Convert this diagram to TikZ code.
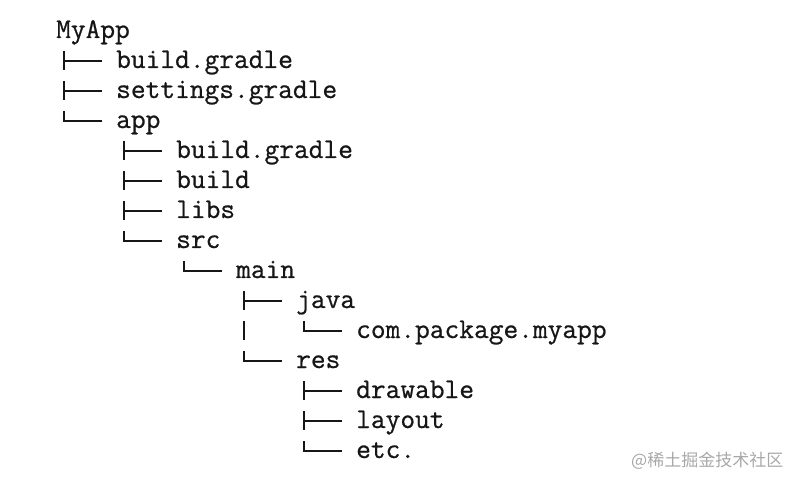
\documentclass[tikz,border=0pt]{standalone}
\usepackage{fontspec}
\usetikzlibrary{calc}
\setmonofont{Latin Modern Mono}[FakeBold=0.7]
\newfontfamily\cjk{Noto Sans CJK SC}
\definecolor{treeink}{HTML}{161616}
\definecolor{markgray}{HTML}{A8A8A8}
\tikzset{
  entry/.style={anchor=base west, inner sep=0pt, text=treeink,
                font=\ttfamily\fontsize{28.6}{30}\selectfont},
  tree/.style={draw=treeink, line width=1.7pt},
}
% tree glyphs drawn from parent to child: mid = |--, last = `--, pass = |
\newcommand\midbranch[2]{\draw[tree] let \p1=(#1.base west), \p2=(#2.base west) in
  (\x1+8pt,\y2+17pt) -- (\x1+8pt,\y2-2pt) (\x1+8pt,\y2+7pt) -- (\x2-14pt,\y2+7pt);}
\newcommand\lastbranch[2]{\draw[tree] let \p1=(#1.base west), \p2=(#2.base west) in
  (\x1+8pt,\y2+17pt) |- (\x2-14pt,\y2+7pt);}
\newcommand\passbranch[2]{\draw[tree] let \p1=(#1.base west), \p2=(#2.base west) in
  (\x1+8pt,\y2+17pt) -- (\x1+8pt,\y2-2pt);}

\begin{document}
\begin{tikzpicture}[x=1pt, y=-1pt]
  \useasboundingbox (0,0) rectangle (798,486);

  \node[entry] (myapp) at (56,38) {MyApp};
  \node[entry] (rootgradle) at (116,68) {build.gradle};
  \node[entry] (settings) at (116,98) {settings.gradle};
  \node[entry] (app) at (116,128) {app};
  \node[entry] (appgradle) at (176,158) {build.gradle};
  \node[entry] (build) at (176,188) {build};
  \node[entry] (libs) at (176,218) {libs};
  \node[entry] (src) at (176,248) {src};
  \node[entry] (main) at (236,278) {main};
  \node[entry] (java) at (296,308) {java};
  \node[entry] (pkg) at (356,338) {com.package.myapp};
  \node[entry] (res) at (296,368) {res};
  \node[entry] (drawable) at (356,398) {drawable};
  \node[entry] (layout) at (356,428) {layout};
  \node[entry] (etc) at (356,458) {etc.};

  \node[anchor=west, inner sep=0pt, text=markgray,
        font=\cjk\fontsize{17}{17}\selectfont] (mark) at (631,461) {@稀土掘金技术社区};

  \midbranch{myapp}{rootgradle}
  \midbranch{myapp}{settings}
  \lastbranch{myapp}{app}
  \midbranch{app}{appgradle}
  \midbranch{app}{build}
  \midbranch{app}{libs}
  \lastbranch{app}{src}
  \lastbranch{src}{main}
  \midbranch{main}{java}
  \passbranch{main}{pkg}
  \lastbranch{main}{res}
  \lastbranch{java}{pkg}
  \midbranch{res}{drawable}
  \midbranch{res}{layout}
  \lastbranch{res}{etc}
\end{tikzpicture}
\end{document}
